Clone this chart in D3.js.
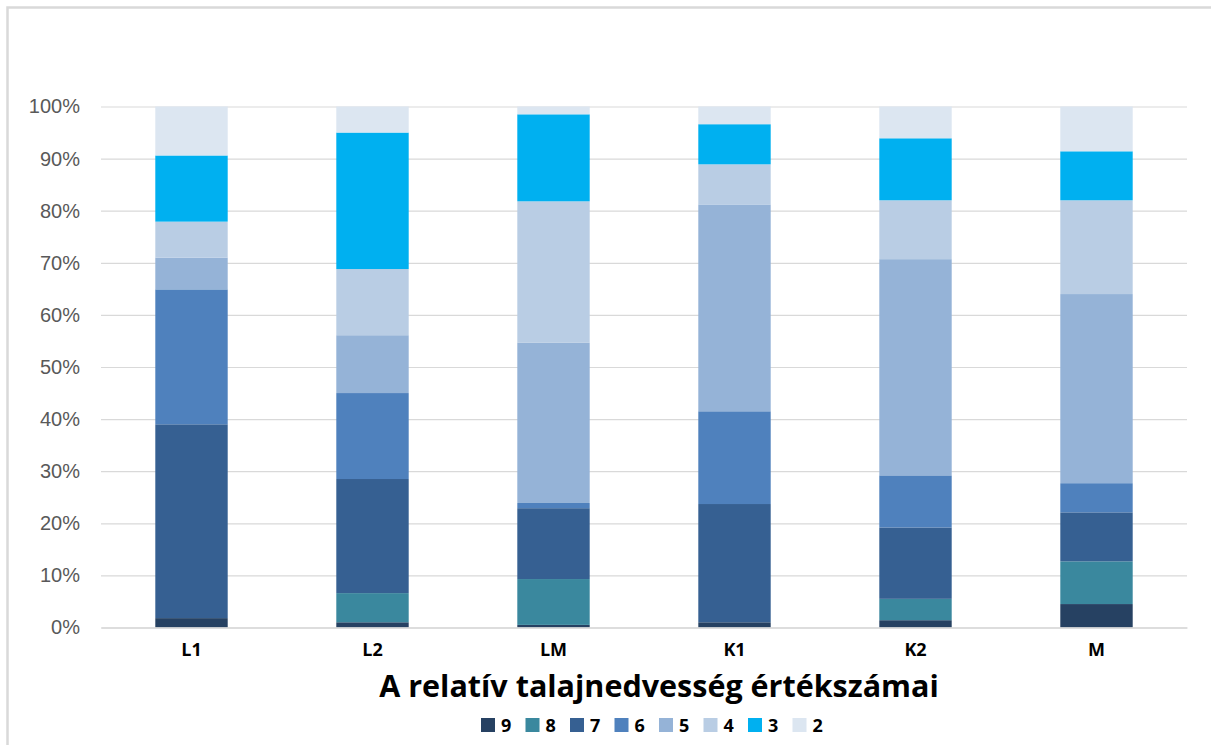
<!DOCTYPE html>
<html>
<head>
<meta charset="utf-8">
<script src="https://cdn.jsdelivr.net/npm/d3@7"></script>
<style>
  html, body { margin: 0; padding: 0; background: #ffffff; }
  svg { display: block; }
</style>
</head>
<body>
<svg id="chart" width="1211" height="745"></svg>
<script>
// Sampling sites
const categories = ["L1", "L2", "LM", "K1", "K2", "M"];

// Relative soil moisture indicator values (share of species, %)
const seriesNames = ["9", "8", "7", "6", "5", "4", "3", "2"];
const values9 = [1.8, 1.0, 0.5, 1.0, 1.4, 4.5];
const values8 = [0, 5.6, 8.8, 0, 4.1, 8.2];
const values7 = [37.2, 21.9, 13.6, 22.7, 13.7, 9.4];
const values6 = [25.9, 16.5, 1.0, 17.8, 10.0, 5.6];
const values5 = [6.1, 11.1, 30.8, 39.7, 41.5, 36.3];
const values4 = [6.9, 12.7, 27.1, 7.7, 11.3, 18.0];
const values3 = [12.7, 26.2, 16.7, 7.7, 11.9, 9.4];
const values2 = [9.4, 5.0, 1.5, 3.4, 6.1, 8.6];

const yTicks = [0, 10, 20, 30, 40, 50, 60, 70, 80, 90, 100];
const titleText = "A relatív talajnedvesség értékszámai";

const seriesColors = {
  "9": "#264162",
  "8": "#3a889e",
  "7": "#366092",
  "6": "#4f81bd",
  "5": "#95b3d7",
  "4": "#b9cde4",
  "3": "#00b0f0",
  "2": "#dce6f1"
};

// Build the table d3.stack expects
const seriesValues = [values9, values8, values7, values6, values5, values4, values3, values2];
const table = categories.map((c, i) => {
  const row = { category: c };
  seriesNames.forEach((s, j) => { row[s] = seriesValues[j][i]; });
  return row;
});

const svg = d3.select("#chart");

// Outer chart frame
svg.append("rect")
  .attr("x", 7.5).attr("y", 7.5)
  .attr("width", 1230).attr("height", 760)
  .attr("fill", "#ffffff")
  .attr("stroke", "#d9d9d9")
  .attr("stroke-width", 2.5);

const plot = { left: 101, right: 1187, top: 106.5, bottom: 627.5 };

const x = d3.scaleBand()
  .domain(categories)
  .range([plot.left, plot.right])
  .paddingInner(0.6)
  .paddingOuter(0.3);

const y = d3.scaleLinear()
  .domain([0, 100])
  .range([plot.bottom, plot.top]);

// Horizontal gridlines + tick labels
const yAxis = d3.axisLeft(y)
  .tickValues(yTicks)
  .tickFormat(d => d + "%")
  .tickSize(-(plot.right - plot.left))
  .tickPadding(21);

const gy = svg.append("g")
  .attr("transform", `translate(${plot.left},0)`)
  .call(yAxis);
gy.select(".domain").remove();
gy.selectAll(".tick line")
  .attr("stroke", "#d9d9d9")
  .attr("stroke-width", 1.2);
gy.selectAll(".tick text")
  .attr("fill", "#595959")
  .style("font-family", "'Liberation Sans', Arial, sans-serif")
  .style("font-size", "20px");

// Stacked bars
const stack = d3.stack().keys(seriesNames);
const layers = stack(table);

svg.append("g")
  .selectAll("g")
  .data(layers)
  .join("g")
  .attr("fill", d => seriesColors[d.key])
  .selectAll("rect")
  .data(d => d)
  .join("rect")
  .attr("x", d => x(d.data.category))
  .attr("width", x.bandwidth())
  .attr("y", d => y(d[1]))
  .attr("height", d => Math.max(0, y(d[0]) - y(d[1])));

// Category axis
const xAxis = d3.axisBottom(x).tickSize(0).tickPadding(16);
const gx = svg.append("g")
  .attr("transform", `translate(0,${plot.bottom})`)
  .call(xAxis);
gx.select(".domain")
  .attr("stroke", "#d9d9d9")
  .attr("stroke-width", 1.5);
gx.selectAll(".tick text")
  .attr("fill", "#000000")
  .style("font-family", "'Open Sans', sans-serif")
  .style("font-weight", "bold")
  .style("font-size", "18px");

// Axis title
svg.append("text")
  .attr("x", 659)
  .attr("y", 697)
  .attr("text-anchor", "middle")
  .attr("fill", "#000000")
  .style("font-family", "'Open Sans', sans-serif")
  .style("font-weight", "bold")
  .style("font-size", "30.5px")
  .text(titleText);

// Legend
const legend = svg.append("g")
  .attr("transform", "translate(481,718)");
const item = legend.selectAll("g")
  .data(seriesNames)
  .join("g")
  .attr("transform", (d, i) => `translate(${i * 44.5},0)`);
item.append("rect")
  .attr("width", 14).attr("height", 14)
  .attr("fill", d => seriesColors[d]);
item.append("text")
  .attr("x", 20)
  .attr("y", 13.5)
  .attr("fill", "#000000")
  .style("font-family", "'Open Sans', sans-serif")
  .style("font-weight", "bold")
  .style("font-size", "18px")
  .text(d => d);
</script>
</body>
</html>
